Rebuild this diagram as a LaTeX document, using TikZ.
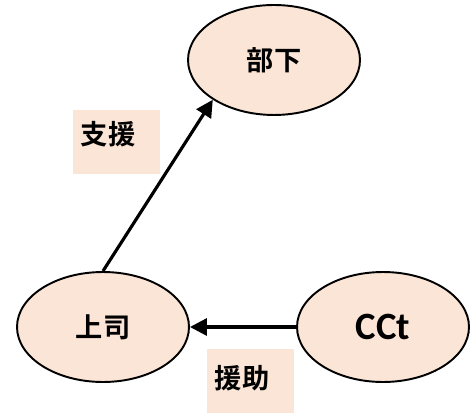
\documentclass[tikz,border=0pt]{standalone}
\usepackage{fontspec}
\usepackage{xcolor}
\usepackage{tikz}
\usetikzlibrary{shapes.geometric,arrows.meta}
\newfontfamily\jpfont{Noto Sans CJK JP Bold}
\newfontfamily\latfont{Carlito}
\definecolor{peach}{HTML}{FBE5D6}
\definecolor{ink}{HTML}{000000}
\tikzset{
  role/.style={ellipse, draw=ink, fill=peach, line width=1.1pt, minimum width=3.44cm, minimum height=2.2cm, inner sep=0pt},
  link/.style={draw=ink, line width=1.8pt, -{Triangle[length=3.4mm,width=3.4mm]}},
  lblbox/.style={fill=peach, anchor=north west, inner xsep=0.15cm, inner ysep=0.1cm, text width=1.44cm, align=left},
  jp/.style={font=\jpfont\fontsize{15.5}{18}\selectfont},
  lat/.style={font=\latfont\bfseries\fontsize{22}{26}\selectfont},
}
\begin{document}
\begin{tikzpicture}[x=0.02cm,y=0.02cm]
  \useasboundingbox (0,0) rectangle (475,412);

  \node[role,jp] (sub) at (274,352) {部下};
  \node[role,jp] (boss) at (103,85) {上司};
  \node[role,lat] (cct) at (383,85) {CCt};

  \draw[link] (boss.north) -- (sub.213);
  \draw[link] (cct) -- (boss);

  \node[lblbox,jp,text height=0.58cm,text depth=0.5cm] (support) at (73,302) {支援};
  \node[lblbox,jp,text height=0.68cm,text depth=0.4cm] (aid) at (207,63) {援助};
\end{tikzpicture}
\end{document}
